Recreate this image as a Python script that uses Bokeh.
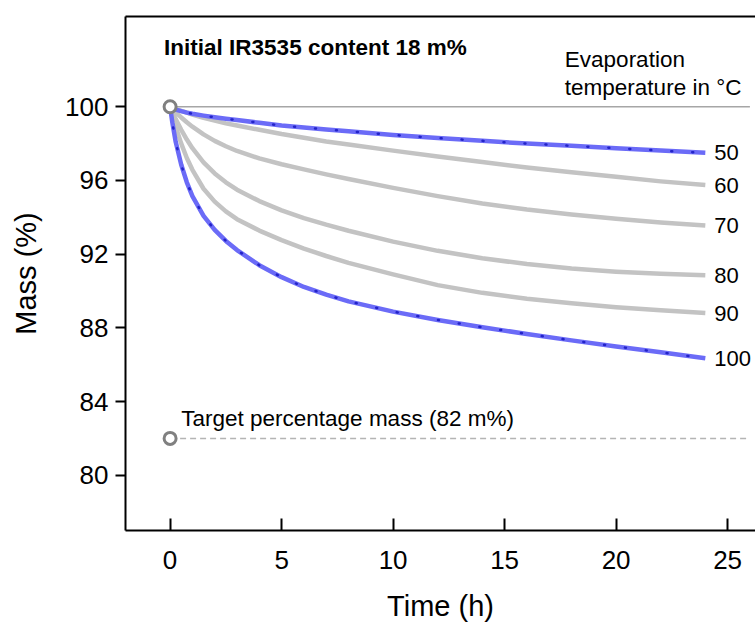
from bokeh.plotting import figure
from bokeh.models import Range1d, LinearAxis, FixedTicker, ColumnDataSource
from bokeh.core.properties import value
from bokeh.embed import file_html
from bokeh.resources import INLINE

time_h = [0, 0.1, 0.25, 0.5, 0.75, 1, 1.5, 2, 2.5, 3, 4, 5, 6, 7, 8, 10, 12, 14, 16, 18, 20, 22, 24]
mass_50 = [100, 99.93, 99.85, 99.76, 99.68, 99.62, 99.52, 99.43, 99.35, 99.28, 99.13, 98.98, 98.87, 98.77, 98.67, 98.47, 98.3, 98.15, 98.0, 97.88, 97.75, 97.62, 97.5]
mass_60 = [100, 99.95, 99.88, 99.78, 99.68, 99.58, 99.4, 99.25, 99.1, 98.98, 98.75, 98.52, 98.32, 98.12, 97.95, 97.62, 97.3, 97.0, 96.7, 96.45, 96.2, 95.95, 95.75]
mass_70 = [100, 99.88, 99.7, 99.42, 99.16, 98.92, 98.5, 98.15, 97.86, 97.6, 97.2, 96.88, 96.6, 96.33, 96.08, 95.6, 95.15, 94.75, 94.42, 94.15, 93.92, 93.72, 93.55]
mass_80 = [100, 99.72, 99.33, 98.75, 98.22, 97.75, 96.98, 96.38, 95.9, 95.5, 94.88, 94.38, 93.96, 93.6, 93.27, 92.68, 92.18, 91.78, 91.46, 91.22, 91.05, 90.93, 90.85]
mass_90 = [100, 99.55, 98.92, 98.0, 97.22, 96.58, 95.55, 94.85, 94.32, 93.9, 93.28, 92.76, 92.3, 91.9, 91.53, 90.9, 90.32, 89.9, 89.58, 89.33, 89.12, 88.95, 88.8]
mass_100 = [100, 99.15, 98.1, 96.85, 95.9, 95.15, 94.08, 93.32, 92.72, 92.22, 91.4, 90.75, 90.22, 89.8, 89.44, 88.88, 88.43, 88.03, 87.67, 87.32, 86.99, 86.67, 86.35]

temp_labels = ["50", "60", "70", "80", "90", "100"]
highlighted = ["50", "100"]

initial_mass = 100
target_mass = 82
ref_x = [0, 26]

x_ticks = [0, 5, 10, 15, 20, 25]
y_ticks = [80, 84, 88, 92, 96, 100]

title_text = "Initial IR3535 content 18 m%"
legend_title = ["Evaporation", "temperature in °C"]
target_text = "Target percentage mass (82 m%)"

FONT = "Liberation Sans"
series = dict(zip(temp_labels, [mass_50, mass_60, mass_70, mass_80, mass_90, mass_100]))

p = figure(width=755, height=624, output_backend="svg", toolbar_location=None,
           x_range=Range1d(-2, 26.25), y_range=Range1d(77, 104.9),
           min_border_left=125, min_border_right=0, min_border_top=16, min_border_bottom=93,
           x_axis_label="Time (h)", y_axis_label="Mass (%)")
p.outline_line_color = None
p.grid.visible = False
p.background_fill_color = "white"

for ax in (p.xaxis[0], p.yaxis[0]):
    ax.axis_line_width = 2
    ax.axis_line_color = "black"
    ax.major_tick_line_width = 2
    ax.major_tick_line_color = "black"
    ax.minor_tick_line_color = None
    ax.major_label_text_font = FONT
    ax.major_label_text_font_size = "26px"
    ax.major_label_text_color = "black"
    ax.axis_label_text_font = FONT
    ax.axis_label_text_font_size = "29px"
    ax.axis_label_text_font_style = "normal"
    ax.axis_label_text_color = "black"

p.xaxis.ticker = FixedTicker(ticks=x_ticks)
p.yaxis.ticker = FixedTicker(ticks=y_ticks)
p.xaxis.major_tick_in = 12
p.xaxis.major_tick_out = 0
p.xaxis.major_label_standoff = 20
p.xaxis.axis_label_standoff = 18
p.yaxis.major_tick_in = 0
p.yaxis.major_tick_out = 10
p.yaxis.major_label_standoff = 7
p.yaxis.axis_label_standoff = 20

top = LinearAxis(ticker=FixedTicker(ticks=[]), axis_line_width=2, axis_line_color="black",
                 major_tick_line_color=None, minor_tick_line_color=None,
                 major_label_text_font_size="0px", major_label_standoff=0)
p.add_layout(top, "above")

# reference lines
p.line(ref_x, [initial_mass, initial_mass], line_color="#a6a6a6", line_width=1.3)
p.line(ref_x, [target_mass, target_mass], line_color="#b4b4b4", line_width=1.5, line_dash="6 4")

# gray curves
for lab in temp_labels:
    if lab not in highlighted:
        p.line(time_h, series[lab], line_color="#c3c3c3", line_width=4.5, line_join="round")
# blue curves
for lab in highlighted:
    p.line(time_h, series[lab], line_color="#6b6bf7", line_width=4.5, line_join="round")
    p.line(time_h, series[lab], line_color="#2323c8", line_width=2.5, line_dash="1 20",
           line_cap="round")

# start markers
p.scatter([ref_x[0], ref_x[0]], [initial_mass, target_mass], size=12, marker="circle",
          fill_color="white", line_color="#808080", line_width=3)

# end labels
end_src = ColumnDataSource(dict(x=[time_h[-1]] * len(temp_labels),
                                y=[series[l][-1] for l in temp_labels],
                                t=temp_labels))
p.text(x="x", y="y", text="t", source=end_src, x_offset=9, text_baseline="middle",
       text_align="left", text_font=value(FONT), text_font_size="22px", text_color="black")

# annotations
p.text(x=[-0.27], y=[103.24], text=[title_text], text_baseline="middle", text_align="left",
       text_font=value(FONT), text_font_size="22.5px", text_font_style="bold", text_color="black")
p.text(x=[17.7, 17.7], y=[102.54, 101.03], text=legend_title, text_baseline="middle",
       text_align="left", text_font=value(FONT), text_font_size="22.5px", text_color="black")
p.text(x=[0.5], y=[83.08], text=[target_text], text_baseline="middle", text_align="left",
       text_font=value(FONT), text_font_size="22.5px", text_color="black")

open("out.html", "w").write(file_html(p, INLINE))
